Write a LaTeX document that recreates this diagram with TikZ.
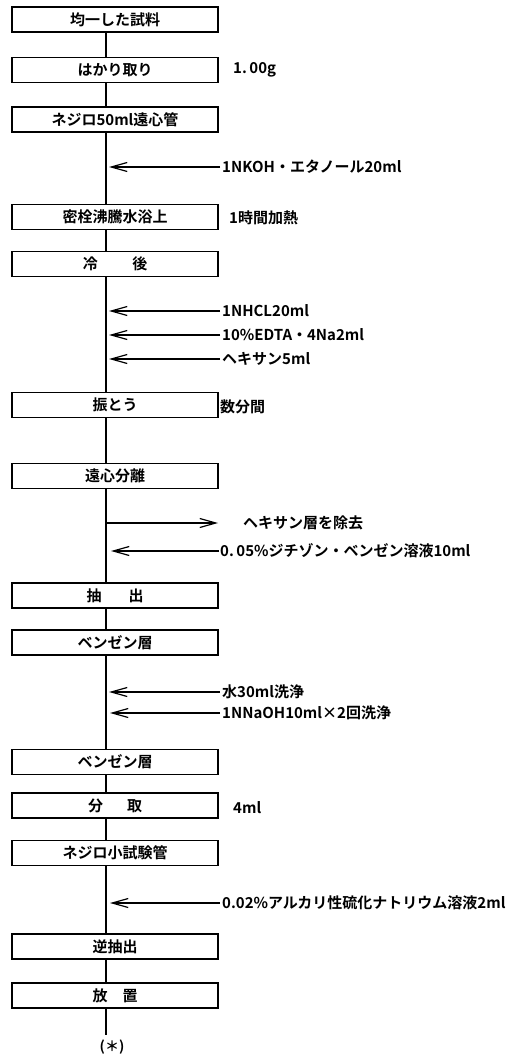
\documentclass[tikz,border=0pt]{standalone}
\usepackage{fontspec}
\setmainfont{Noto Sans CJK JP}[BoldFont={Noto Sans CJK JP Bold}]
\usetikzlibrary{arrows.meta}
\tikzset{
  stepbox/.style={draw, line width=1.3pt, minimum width=206pt, minimum height=25pt, inner sep=0pt, font=\fontsize{15}{15}\selectfont\bfseries},
  lbl/.style={anchor=west, inner sep=0pt, font=\fontsize{15}{15}\selectfont\bfseries},
  spine/.style={line width=1.8pt},
  arr/.style={line width=1.2pt, -{Straight Barb[length=16pt,width=9pt,line width=1.2pt]}},
}
\begin{document}
\begin{tikzpicture}[x=1pt,y=-1pt]
\useasboundingbox (0,0) rectangle (520,1056);
\coordinate (sp) at (106,0);
% boxes
\node[stepbox] (b1) at (115,19.5) {均一した試料};
\node[stepbox] (b2) at (115,70) {はかり取り};
\node[stepbox] (b3) at (115,119.5) {ネジロ50ml遠心管};
\node[stepbox] (b4) at (115,217) {密栓沸騰水浴上};
\node[stepbox] (b5) at (115,264) {冷\hspace{2.3em}後};
\node[stepbox] (b6) at (115,405) {振とう};
\node[stepbox] (b7) at (115,476) {遠心分離};
\node[stepbox] (b8) at (115,595.5) {抽\hspace{1.8em}出};
\node[stepbox] (b9) at (115,642.5) {ベンゼン層};
\node[stepbox] (b10) at (115,762) {ベンゼン層};
\node[stepbox] (b11) at (115,805.5) {分\hspace{1.6em}取};
\node[stepbox] (b12) at (115,853) {ネジロ小試験管};
\node[stepbox] (b13) at (115,946.5) {逆抽出};
\node[stepbox] (b14) at (115,995.5) {放\hspace{1em}置};
\node[inner sep=0pt, font=\fontsize{14}{14}\selectfont\bfseries] (star) at (112,1047) {(＊)};
% spine
\foreach \a/\b in {b1/b2,b2/b3,b3/b4,b4/b5,b5/b6,b6/b7,b7/b8,b8/b9,b9/b10,b10/b11,b11/b12,b12/b13,b13/b14}
  \draw[spine] (\a.south -| sp) -- (\b.north -| sp);
\coordinate (end) at (106,1035);
\draw[spine] (b14.south -| sp) -- (end);
% side labels
\node[lbl] (n2) at (233,70) {1.\,00g};
\node[lbl] (n4) at (229,218) {1時間加熱};
\node[lbl] (n6) at (220,407) {数分間};
\node[lbl] (n11) at (233,808) {4ml};
% reagent arrows
\node[lbl] (r1) at (222,167) {1NKOH・エタノール20ml};
\coordinate (t1) at (109,167);
\draw[arr] ([xshift=-2pt]r1.west) -- (t1);
\node[lbl] (r2) at (222,311) {1NHCL20ml};
\coordinate (t2) at (109,311);
\draw[arr] ([xshift=-2pt]r2.west) -- (t2);
\node[lbl] (r3) at (222,335) {10\%EDTA・4Na2ml};
\coordinate (t3) at (109,335);
\draw[arr] ([xshift=-2pt]r3.west) -- (t3);
\node[lbl] (r4) at (222,359) {ヘキサン5ml};
\coordinate (t4) at (109,359);
\draw[arr] ([xshift=-2pt]r4.west) -- (t4);
\node[lbl] (r5) at (243,523) {ヘキサン層を除去};
\coordinate (s5) at (106,523);
\coordinate (t5) at (218,523);
\draw[arr] (s5) -- (t5);
\node[lbl] (r6) at (220,551) {0.\,05\%ジチゾン・ベンゼン溶液10ml};
\coordinate (t6) at (111,551);
\draw[arr] ([xshift=-1pt]r6.west) -- (t6);
\node[lbl] (r7) at (222,692) {水30ml洗浄};
\coordinate (t7) at (109,692);
\draw[arr] ([xshift=-2pt]r7.west) -- (t7);
\node[lbl] (r8) at (222,713) {1NNaOH10ml×2回洗浄};
\coordinate (t8) at (110,713);
\draw[arr] ([xshift=-2pt]r8.west) -- (t8);
\node[lbl] (r9) at (222,903) {0.02\%アルカリ性硫化ナトリウム溶液2ml};
\coordinate (t9) at (110,903);
\draw[arr] ([xshift=-2pt]r9.west) -- (t9);
\end{tikzpicture}
\end{document}
